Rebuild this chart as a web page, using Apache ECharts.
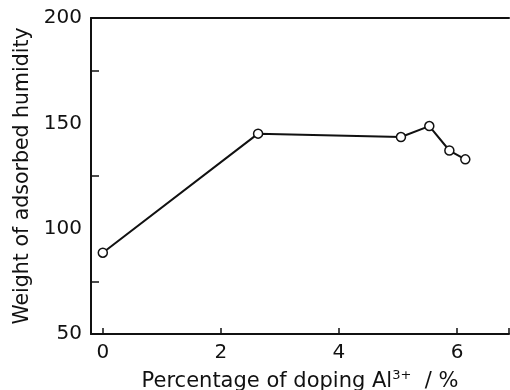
<!DOCTYPE html>
<html>
<head>
<meta charset="utf-8">
<script src="https://cdn.jsdelivr.net/npm/echarts@6/dist/echarts.min.js"></script>
<style>
  html, body { margin: 0; padding: 0; background: #fff; }
  #chart { width: 510px; height: 390px; }
</style>
</head>
<body>
<div id="chart"></div>
<script>
  // doping percentage of Al3+ (x) and weight of adsorbed humidity (y)
  const doping = [0, 2.63, 5.05, 5.53, 5.87, 6.14]
  const humidity = [88.6, 145.1, 143.5, 148.7, 137.1, 132.9]
  const yTicks = [50, 100, 150, 200]

  const points = doping.map((x, i) => [x, humidity[i]])
  const ink = '#111'
  const font = 'DejaVu Sans'

  const chart = echarts.init(document.getElementById('chart'))
  chart.setOption({
    animation: false,
    backgroundColor: '#fff',
    grid: { left: 91, right: 1, top: 18, bottom: 56, outerBoundsMode: 'none', containLabel: false },
    xAxis: [
      {
        type: 'value',
        min: -0.2,
        max: 6.88,
        splitNumber: 4,
        name: 'Percentage of doping Al{sup|3+}  / %',
        nameLocation: 'middle',
        nameGap: 35,
        nameTextStyle: {
          color: ink,
          fontFamily: font,
          fontSize: 21,
          rich: {
            sup: { fontFamily: font, fontSize: 13, verticalAlign: 'top', padding: [0, 0, 12, 0], color: ink }
          }
        },
        axisLine: { show: true, onZero: false, lineStyle: { color: ink, width: 2 } },
        axisTick: { show: true, inside: true, length: 6, lineStyle: { color: ink, width: 1.5 } },
        axisLabel: {
          color: ink,
          fontFamily: font,
          fontSize: 20,
          margin: 9,
          // only the even values carry labels (hides the -0.2 / 6.88 extent ticks)
          formatter: (v) => (Math.abs(v % 2) < 1e-6 ? String(v) : '')
        },
        splitLine: { show: false }
      },
      {
        // top frame line
        type: 'value',
        position: 'top',
        min: -0.2,
        max: 6.88,
        axisLine: { show: true, onZero: false, lineStyle: { color: ink, width: 2 } },
        axisTick: { show: false },
        axisLabel: { show: false },
        splitLine: { show: false }
      }
    ],
    yAxis: {
      type: 'value',
      min: yTicks[0],
      max: yTicks[yTicks.length - 1],
      interval: 50,
      name: 'Weight of adsorbed humidity',
      nameLocation: 'middle',
      nameRotate: 90,
      nameGap: 58,
      nameTextStyle: { color: ink, fontFamily: font, fontSize: 20.5 },
      axisLine: { show: true, onZero: false, lineStyle: { color: ink, width: 2 } },
      axisTick: { show: false, inside: true },
      minorTick: { show: true, splitNumber: 2, length: 8, lineStyle: { color: ink, width: 1.5 } },
      axisLabel: { color: ink, fontFamily: font, fontSize: 20, margin: 9 },
      splitLine: { show: false }
    },
    series: [
      {
        type: 'line',
        data: points,
        symbol: 'circle',
        symbolSize: 9,
        lineStyle: { color: ink, width: 2 },
        itemStyle: { color: '#fff', borderColor: ink, borderWidth: 1.5 }
      }
    ]
  })
</script>
</body>
</html>
